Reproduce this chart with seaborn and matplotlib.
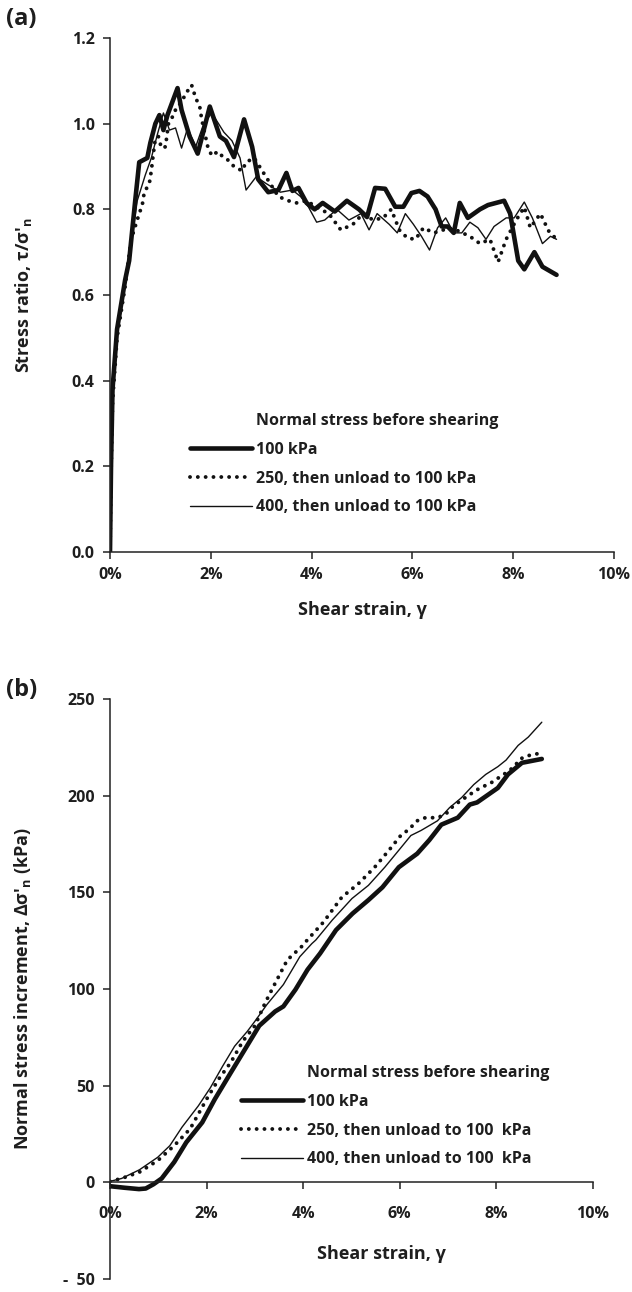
import numpy as np
import pandas as pd
import matplotlib
matplotlib.use("Agg")
import matplotlib.pyplot as plt
import seaborn as sns
from matplotlib.lines import Line2D
from matplotlib.ticker import FixedLocator, FixedFormatter

sns.set_theme(style="white")
plt.rcParams['font.family'] = ['Open Sans', 'DejaVu Sans']
plt.rcParams['font.weight'] = 'bold'
plt.rcParams['mathtext.default'] = 'regular'

# ---------------- Data: panel (a) stress ratio vs shear strain (%) -------------
a100_x = [0.0, 0.02, 0.05, 0.14, 0.30, 0.38, 0.50, 0.58, 0.74, 0.80, 0.90, 0.98, 1.06, 1.14, 1.34,
          1.42, 1.58, 1.74, 1.98, 2.18, 2.30, 2.46, 2.66, 2.82, 2.94, 3.14, 3.34, 3.50, 3.62, 3.74,
          3.90, 4.06, 4.22, 4.46, 4.70, 4.94, 5.10, 5.26, 5.46, 5.66, 5.82, 5.98, 6.14, 6.30, 6.46,
          6.58, 6.70, 6.82, 6.94, 7.10, 7.34, 7.50, 7.82, 7.94, 8.10, 8.22, 8.42, 8.58, 8.86]
a100_y = [0.0, 0.20, 0.38, 0.52, 0.635, 0.68, 0.82, 0.91, 0.92, 0.955, 1.00, 1.02, 0.985, 1.02, 1.083,
          1.032, 0.97, 0.93, 1.04, 0.97, 0.96, 0.922, 1.01, 0.946, 0.87, 0.84, 0.845, 0.885, 0.843, 0.85,
          0.815, 0.80, 0.815, 0.795, 0.82, 0.80, 0.782, 0.85, 0.848, 0.806, 0.806, 0.838, 0.843, 0.83, 0.80,
          0.76, 0.76, 0.745, 0.815, 0.78, 0.80, 0.81, 0.82, 0.79, 0.68, 0.66, 0.70, 0.666, 0.647]

a250_x = [0.0, 0.02, 0.05, 0.14, 0.30, 0.42, 0.58, 0.64, 0.68, 0.78, 0.82, 0.86, 0.90, 0.96, 1.02,
          1.10, 1.16, 1.22, 1.28, 1.34, 1.40, 1.46, 1.52, 1.58, 1.62, 1.70, 1.78, 1.82, 1.94, 2.02,
          2.14, 2.22, 2.30, 2.46, 2.62, 2.70, 2.86, 3.02, 3.18, 3.34, 3.54, 3.70, 3.90, 4.10, 4.34,
          4.58, 4.82, 5.02, 5.22, 5.42, 5.58, 5.74, 5.90, 6.06, 6.22, 6.42, 6.58, 6.70, 6.90, 7.14,
          7.34, 7.54, 7.70, 7.86, 8.06, 8.22, 8.34, 8.54, 8.70, 8.86]
a250_y = [0.0, 0.18, 0.35, 0.50, 0.62, 0.73, 0.79, 0.81, 0.84, 0.86, 0.89, 0.93, 0.965, 0.97, 0.943,
          0.946, 1.00, 1.01, 1.03, 1.035, 1.05, 1.06, 1.075, 1.08, 1.09, 1.06, 1.04, 1.01, 0.946, 0.925,
          0.935, 0.925, 0.92, 0.90, 0.89, 0.91, 0.92, 0.89, 0.86, 0.83, 0.82, 0.815, 0.82, 0.805, 0.79,
          0.752, 0.765, 0.79, 0.775, 0.78, 0.80, 0.752, 0.733, 0.73, 0.757, 0.745, 0.75, 0.757, 0.75, 0.737,
          0.72, 0.73, 0.677, 0.73, 0.775, 0.805, 0.757, 0.79, 0.75, 0.73]

a400_x = [0.0, 0.02, 0.05, 0.14, 0.30, 0.42, 0.54, 0.62, 0.70, 0.82, 0.94, 1.06, 1.18, 1.30, 1.42,
          1.54, 1.70, 1.86, 2.02, 2.26, 2.42, 2.58, 2.70, 2.90, 3.10, 3.38, 3.62, 3.78, 3.94, 4.10,
          4.26, 4.50, 4.74, 4.98, 5.14, 5.30, 5.54, 5.70, 5.86, 6.02, 6.18, 6.34, 6.50, 6.66, 6.82,
          6.98, 7.14, 7.30, 7.46, 7.62, 7.86, 8.02, 8.22, 8.38, 8.58, 8.74, 8.86]
a400_y = [0.0, 0.22, 0.40, 0.53, 0.64, 0.72, 0.82, 0.85, 0.88, 0.92, 0.975, 1.025, 0.985, 0.99, 0.943,
          0.99, 0.946, 1.00, 1.025, 0.98, 0.96, 0.92, 0.845, 0.876, 0.86, 0.84, 0.845, 0.83, 0.805, 0.77,
          0.775, 0.80, 0.775, 0.79, 0.752, 0.79, 0.765, 0.745, 0.79, 0.765, 0.737, 0.705, 0.757, 0.78, 0.745,
          0.745, 0.77, 0.757, 0.73, 0.76, 0.78, 0.78, 0.817, 0.78, 0.72, 0.737, 0.73]

# ---------------- Data: panel (b) normal stress increment (kPa) ---------------
b100_x = [0.0, 0.30, 0.60, 0.74, 0.90, 1.07, 1.33, 1.58, 1.91, 2.17, 2.50, 2.75, 3.09, 3.42, 3.59,
          3.84, 4.09, 4.35, 4.68, 5.02, 5.35, 5.64, 5.98, 6.36, 6.61, 6.86, 7.20, 7.45, 7.60, 8.03,
          8.24, 8.53, 8.94]
b100_y = [-2.0, -2.8, -3.5, -3.2, -1.0, 2.0, 10.5, 20.7, 31.0, 43.0, 56.7, 67.0, 81.0, 88.4, 91.0,
          99.7, 110.0, 118.4, 130.5, 139.0, 146.0, 152.6, 163.0, 170.0, 177.0, 185.0, 188.6, 195.4, 196.5, 204.0,
          211.0, 217.0, 219.0]

b250_x = [0.0, 0.24, 0.61, 0.99, 1.33, 1.66, 2.00, 2.25, 2.50, 2.75, 3.00, 3.21, 3.42, 3.67, 3.97,
          4.09, 4.42, 4.80, 5.14, 5.48, 5.77, 6.02, 6.19, 6.36, 6.53, 6.78, 6.95, 7.11, 7.45, 7.66,
          7.87, 8.03, 8.20, 8.37, 8.49, 8.70, 8.92]
b250_y = [0.5, 2.0, 5.3, 11.3, 19.0, 27.7, 43.0, 53.4, 62.0, 73.0, 81.0, 92.7, 103.0, 115.0, 122.0,
          125.5, 134.6, 147.5, 154.4, 163.0, 171.6, 179.4, 182.6, 187.0, 188.6, 188.6, 190.4, 194.8, 200.6, 204.0,
          206.3, 209.0, 211.8, 215.0, 219.0, 221.0, 222.0]

b400_x = [0.0, 0.24, 0.61, 0.99, 1.24, 1.49, 1.83, 2.08, 2.33, 2.58, 2.84, 3.00, 3.25, 3.59, 3.93,
          4.18, 4.26, 4.60, 5.01, 5.35, 5.69, 6.02, 6.23, 6.44, 6.78, 7.03, 7.28, 7.53, 7.78, 8.03,
          8.20, 8.45, 8.66, 8.94]
b400_y = [0.5, 2.0, 6.5, 13.0, 19.0, 28.5, 39.6, 49.0, 60.0, 70.4, 78.0, 83.3, 92.0, 102.3, 116.7,
          123.5, 125.3, 135.6, 146.8, 153.6, 163.0, 173.0, 179.4, 182.0, 187.0, 193.8, 199.0, 205.7, 211.0, 215.0,
          218.4, 226.0, 230.3, 238.0]

labels = ["100 kPa", "250, then unload to 100 kPa", "400, then unload to 100 kPa"]
labels_b = ["100 kPa", "250, then unload to 100  kPa", "400, then unload to 100  kPa"]
legend_title = "Normal stress before shearing"

xticks = [0, 2, 4, 6, 8, 10]
xticklabels = ["0%", "2%", "4%", "6%", "8%", "10%"]
a_yticks = [0.0, 0.2, 0.4, 0.6, 0.8, 1.0, 1.2]
a_yticklabels = ["0.0", "0.2", "0.4", "0.6", "0.8", "1.0", "1.2"]
b_yticks = [-50, 0, 50, 100, 150, 200, 250]
b_yticklabels = ["-  50", "0", "50", "100", "150", "200", "250"]

TXT = "#1e1e1e"
LINE = "#111111"
styles = [dict(lw=3.3, ls="-", solid_capstyle="round"),
          dict(lw=2.8, ls=(0, (0.01, 2.0)), dash_capstyle="round"),
          dict(lw=1.0, ls="-")]

fig = plt.figure(figsize=(6.32, 12.92), dpi=100)
W, H = 632, 1292
axA = fig.add_axes([110 / W, 1 - 552 / H, (614 - 110) / W, (552 - 38) / H])
axB = fig.add_axes([110 / W, 1 - 1279 / H, (593 - 110) / W, (1279 - 699) / H])

def draw(ax, series):
    for (x, y), st in zip(series, styles):
        df = pd.DataFrame({"x": x, "y": y})
        sns.lineplot(data=df, x="x", y="y", ax=ax, color=LINE, sort=False,
                     estimator=None, legend=False, **st)

draw(axA, [(a100_x, a100_y), (a250_x, a250_y), (a400_x, a400_y)])
draw(axB, [(b100_x, b100_y), (b250_x, b250_y), (b400_x, b400_y)])

for ax in (axA, axB):
    ax.set_facecolor("white")
    for s in ("top", "right"):
        ax.spines[s].set_visible(False)
    for s in ("left", "bottom"):
        ax.spines[s].set_color("#222222")
        ax.spines[s].set_linewidth(1.1)
    ax.set_xlim(0, 10)
    ax.xaxis.set_major_locator(FixedLocator(xticks))
    ax.xaxis.set_major_formatter(FixedFormatter(xticklabels))
    ax.tick_params(axis="both", which="major", direction="out", length=5, width=1.1,
                   color="#222222", labelcolor=TXT, labelsize=11.5, left=True, bottom=True)
    for lab in ax.get_xticklabels() + ax.get_yticklabels():
        lab.set_fontweight("bold")

axA.set_ylim(0, 1.2)
axA.yaxis.set_major_locator(FixedLocator(a_yticks))
axA.yaxis.set_major_formatter(FixedFormatter(a_yticklabels))
axA.tick_params(axis="y", pad=6)
axA.tick_params(axis="x", pad=6)

axB.set_ylim(-50, 250)
axB.yaxis.set_major_locator(FixedLocator(b_yticks))
axB.yaxis.set_major_formatter(FixedFormatter(b_yticklabels))
axB.spines["bottom"].set_position(("data", 0))
axB.tick_params(axis="y", pad=6)
axB.tick_params(axis="x", pad=12)

lab_kw = dict(fontsize=13, fontweight="bold", color=TXT)
axA.set_xlabel("Shear strain, γ", **lab_kw)
axA.xaxis.set_label_coords(0.5, -0.095)
axA.set_ylabel("Stress ratio, τ/σ'$_{n}$", **lab_kw)
axA.yaxis.set_label_coords(-0.15, 0.5)

axB.set_xlabel("Shear strain, γ", **lab_kw)
axB.xaxis.set_label_coords((381 - 110) / (593 - 110), (1279 - 1245) / (1279 - 699))
axB.set_ylabel("Normal stress increment, Δσ'$_{n}$ (kPa)", **lab_kw)
axB.yaxis.set_label_coords(-0.16, 0.5)

fig.text(6 / W, 1 - 19 / H, "(a)", fontsize=17, fontweight="bold", color=TXT, va="center", ha="left")
fig.text(6 / W, 1 - 690 / H, "(b)", fontsize=17, fontweight="bold", color=TXT, va="center", ha="left")

def make_legend(ax, labs, anchor):
    handles = [Line2D([], [], color="none", lw=0)]
    for st in styles:
        handles.append(Line2D([], [], color=LINE, **st))
    leg = ax.legend(handles, [legend_title] + labs, loc="upper left",
                    bbox_to_anchor=anchor, bbox_transform=fig.transFigure,
                    frameon=False, handlelength=3.9, handletextpad=0.25,
                    labelspacing=0.8, borderpad=0, borderaxespad=0,
                    prop=dict(size=11.5, weight="bold"))
    for t in leg.get_texts():
        t.set_color(TXT)
    return leg

make_legend(axA, labels, (190 / W, 1 - 413 / H))
make_legend(axB, labels_b, (241 / W, 1 - 1065 / H))

fig.savefig("out.png", dpi=100, facecolor="white")
